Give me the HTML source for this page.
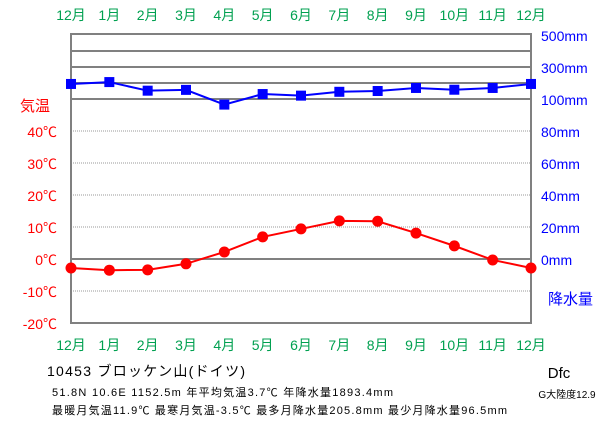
<!DOCTYPE html>
<html><head><meta charset="utf-8"><style>
body{margin:0;background:#fff;}
svg{display:block;font-family:"Liberation Sans","Noto Sans CJK JP",sans-serif;}
</style></head><body>
<svg id="c" width="611" height="425"></svg>
<script>
const months=["12月","1月","2月","3月","4月","5月","6月","7月","8月","9月","10月","11月","12月"];
const temps=[-2.8,-3.5,-3.4,-1.5,2.2,6.9,9.4,11.9,11.8,8.1,4.1,-0.3,-2.8];
const precip=[194,205.8,152,157,96.5,131,121,145,150,169,158,169,194];
const tempTicks=[40,30,20,10,0,-10,-20];
const precipTicks=[500,300,100,80,60,40,20,0];
const NS="http://www.w3.org/2000/svg";
const svg=document.getElementById('c');
const L=71,R=531,T=34,B=323;
function xs(i){return L+(R-L)*i/(months.length-1);}
function yT(t){return 259-t*3.2;}
function yP(p){return p<=100?259-p*1.6:99-(p-100)*0.16;}
function mk(tag,a,txt){const e=document.createElementNS(NS,tag);for(const k in a)e.setAttribute(k,a[k]);if(txt!==undefined)e.textContent=txt;svg.appendChild(e);return e;}
tempTicks.forEach(t=>{if(t===0||t===-20)return;const l=mk('line',{x1:L,x2:R,y1:yT(t),y2:yT(t),stroke:'#999','stroke-dasharray':'1,1'});

});
[200,300,400].forEach(p=>{const l=mk('line',{x1:L,x2:R,y1:yP(p),y2:yP(p),stroke:'#808080','stroke-width':2});

});
[0,100].forEach(p=>{const l=mk('line',{x1:L,x2:R,y1:yP(p),y2:yP(p),stroke:'#808080','stroke-width':2});

});
const fr=mk('rect',{x:L,y:T,width:R-L,height:B-T,fill:'none',stroke:'#808080','stroke-width':2});


months.forEach((m,i)=>{[20,350].forEach(y=>{const t=mk('text',{x:xs(i),y:y,'text-anchor':'middle',fill:'#00a050','font-size':14},m);

});});
tempTicks.forEach(t=>{const e=mk('text',{x:57,y:yT(t)+6,'text-anchor':'end',fill:'#f00','font-size':14},t+'℃');

});
const tt=mk('text',{x:20,y:111,fill:'#f00','font-size':15},'気温');


precipTicks.forEach(p=>{const e=mk('text',{x:541,y:yP(p)+6,fill:'#00f','font-size':14},p+'mm');

});
const pt=mk('text',{x:548,y:304,fill:'#00f','font-size':15},'降水量');


const pl=mk('polyline',{points:precip.map((p,i)=>xs(i)+','+yP(p)).join(' '),fill:'none',stroke:'#00f','stroke-width':2});


precip.forEach((p,i)=>{const r=mk('rect',{x:xs(i)-5,y:yP(p)-5,width:10,height:10,fill:'#00f'});

});
const tl=mk('polyline',{points:temps.map((t,i)=>xs(i)+','+yT(t)).join(' '),fill:'none',stroke:'#f00','stroke-width':2});


temps.forEach((t,i)=>{const c=mk('circle',{cx:xs(i),cy:yT(t),r:5.5,fill:'#f00'});

});
const info=[[47,376,14,198,'10453  ブロッケン山(ドイツ)'],[52,396,11,341,'51.8N  10.6E  1152.5m 年平均気温3.7℃  年降水量1893.4mm'],[52,414,11,455,'最暖月気温11.9℃ 最寒月気温-3.5℃ 最多月降水量205.8mm 最少月降水量96.5mm']];
info.forEach(a=>{const e=mk('text',{x:a[0],y:a[1],'font-size':a[2],fill:'#000',textLength:a[3],lengthAdjust:'spacing'},a[4]);

});
const k=mk('text',{x:559,y:378,'font-size':15,'text-anchor':'middle'},'Dfc');


const g=mk('text',{x:567,y:398,'font-size':10,'text-anchor':'middle'},'G大陸度12.9');


</script>
</body></html>
